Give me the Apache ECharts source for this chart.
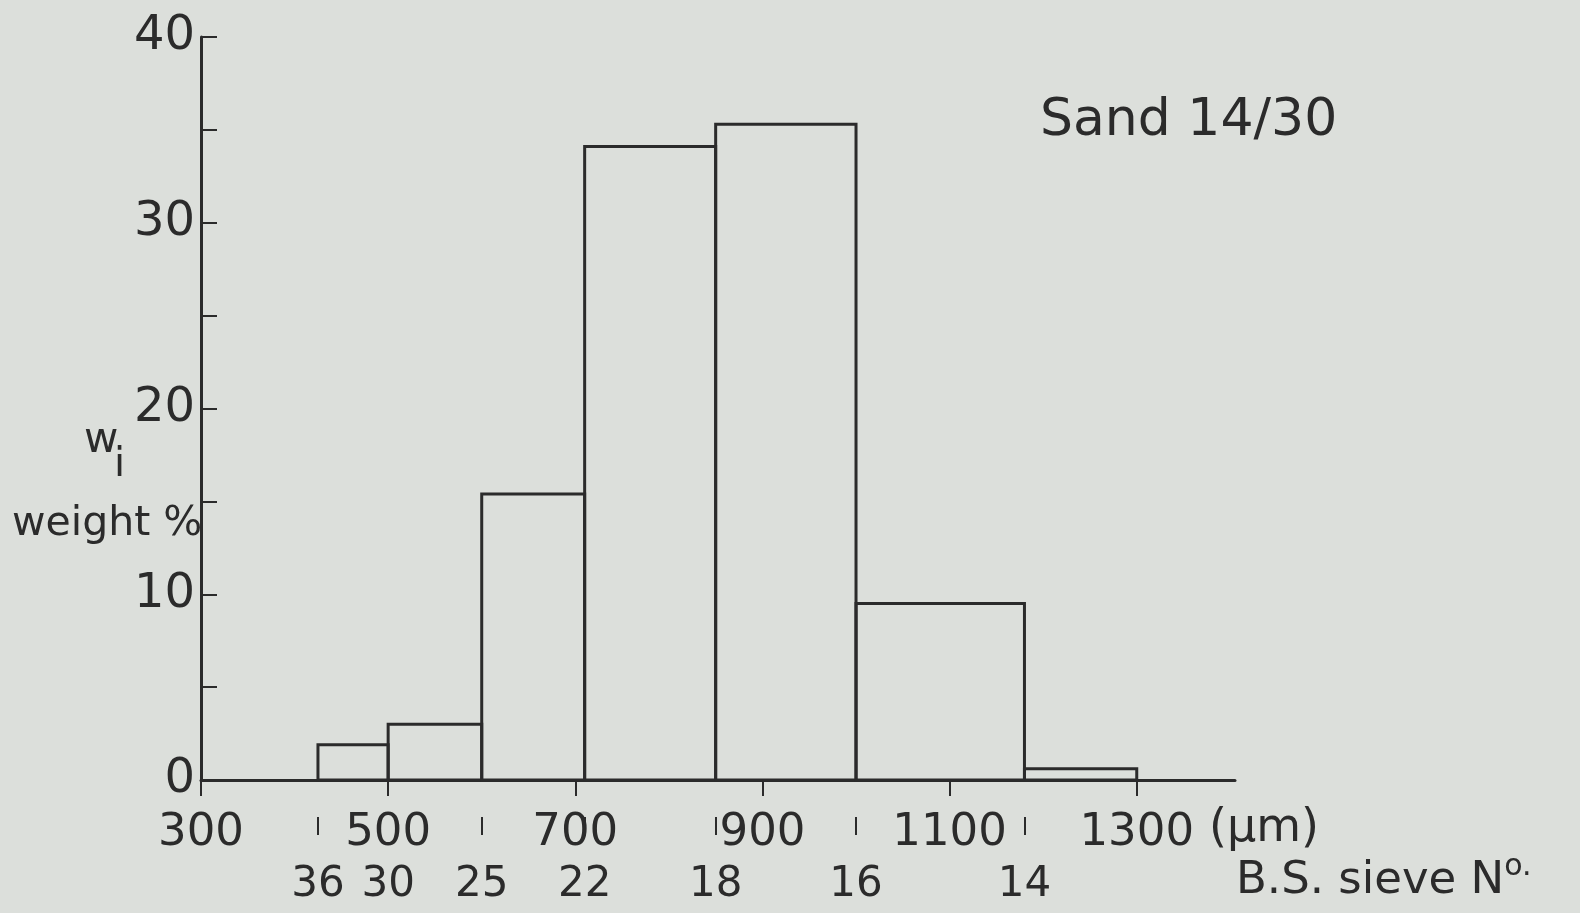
<!DOCTYPE html>
<html>
<head>
<meta charset="utf-8">
<script src="https://cdn.jsdelivr.net/npm/echarts@6/dist/echarts.min.js"></script>
<style>
html,body{margin:0;padding:0;background:#dcdfdb;}
#chart{width:1580px;height:913px;}
</style>
</head>
<body>
<div id="chart"></div>
<script>
// Size classes (µm) between successive B.S. sieves, with weight %
const binLower = [425, 500, 600, 710, 850, 1000, 1180];
const binUpper = [500, 600, 710, 850, 1000, 1180, 1300];
const weightPct = [1.9, 3.0, 15.4, 34.1, 35.3, 9.5, 0.6];

// Axis ticks / labels
const sizeTicks = [300, 500, 700, 900, 1100, 1300];
const sieveSizes = [425, 500, 600, 710, 850, 1000, 1180];
const sieveNumbers = ['36', '30', '25', '22', '18', '16', '14'];
const sieveMarks = [425, 600, 710, 850, 1000, 1180];
const yTicks = [5, 10, 15, 20, 25, 30, 35, 40];
const yLabels = [0, 10, 20, 30, 40];

const ink = '#2b2b2b';
const font = 'DejaVu Sans';

const chart = echarts.init(document.getElementById('chart'), null, {renderer: 'canvas'});

const barData = binLower.map((l, i) => [l, binUpper[i], weightPct[i]]);

chart.setOption({
  backgroundColor: '#dcdfdb',
  animation: false,
  grid: {left: 201, right: 345, top: 37, bottom: 133, containLabel: false, outerBoundsMode: 'none'},
  xAxis: [
    {
      type: 'value', min: 300, max: 1405,
      axisLine: {show: true, lineStyle: {color: ink, width: 3}},
      axisTick: {show: true, customValues: sizeTicks, length: 16, inside: false, lineStyle: {color: ink, width: 2}},
      axisLabel: {show: true, customValues: sizeTicks, margin: 31, color: ink, fontFamily: font, fontSize: 45,
        formatter: v => String(v)},
      splitLine: {show: false}
    },
    {
      type: 'value', min: 300, max: 1405, position: 'bottom', offset: 37,
      axisLine: {show: false},
      axisTick: {show: true, customValues: sieveMarks, length: 18, inside: false, lineStyle: {color: ink, width: 2}},
      axisLabel: {show: true, customValues: sieveSizes, margin: 47, color: ink, fontFamily: font, fontSize: 42,
        formatter: v => sieveNumbers[sieveSizes.indexOf(v)]},
      splitLine: {show: false}
    }
  ],
  yAxis: {
    type: 'value', min: 0, max: 40,
    axisLine: {show: true, lineStyle: {color: ink, width: 3}},
    axisTick: {show: true, customValues: yTicks, inside: true, length: 16, lineStyle: {color: ink, width: 2}},
    axisLabel: {show: true, customValues: yLabels, margin: 6, color: ink, fontFamily: font, fontSize: 48},
    splitLine: {show: false}
  },
  graphic: [
    {type: 'text', left: 1040, top: 95, style: {text: 'Sand 14/30', fill: ink, font: '52px "DejaVu Sans"'}},
    {type: 'text', left: 1209, top: 806, style: {text: '(μm)', fill: ink, font: '46px "DejaVu Sans"'}},
    {type: 'text', left: 1236, top: 852, style: {
      text: '{a|B.S. sieve N}{b|o.}', rich: {
        a: {fill: ink, fontFamily: font, fontSize: 45, verticalAlign: 'bottom'},
        b: {fill: ink, fontFamily: font, fontSize: 30, verticalAlign: 'top', padding: [0, 0, 22, 0]}
      }}},
    {type: 'text', left: 84, top: 420, style: {text: 'w', fill: ink, font: '42px "DejaVu Sans"'}},
    {type: 'text', left: 114, top: 446, style: {text: 'i', fill: ink, font: '40px "DejaVu Sans"'}},
    {type: 'text', left: 12, top: 504, style: {text: 'weight %', fill: ink, font: '41px "DejaVu Sans"'}}
  ],
  series: [{
    type: 'custom',
    xAxisIndex: 0,
    data: barData,
    encode: {x: [0, 1], y: 2},
    renderItem: function (params, api) {
      const p0 = api.coord([api.value(0), api.value(2)]);
      const p1 = api.coord([api.value(1), 0]);
      return {
        type: 'rect',
        shape: {x: p0[0], y: p0[1], width: p1[0] - p0[0], height: p1[1] - p0[1]},
        style: {fill: 'none', stroke: ink, lineWidth: 3}
      };
    }
  }]
});
</script>
</body>
</html>
